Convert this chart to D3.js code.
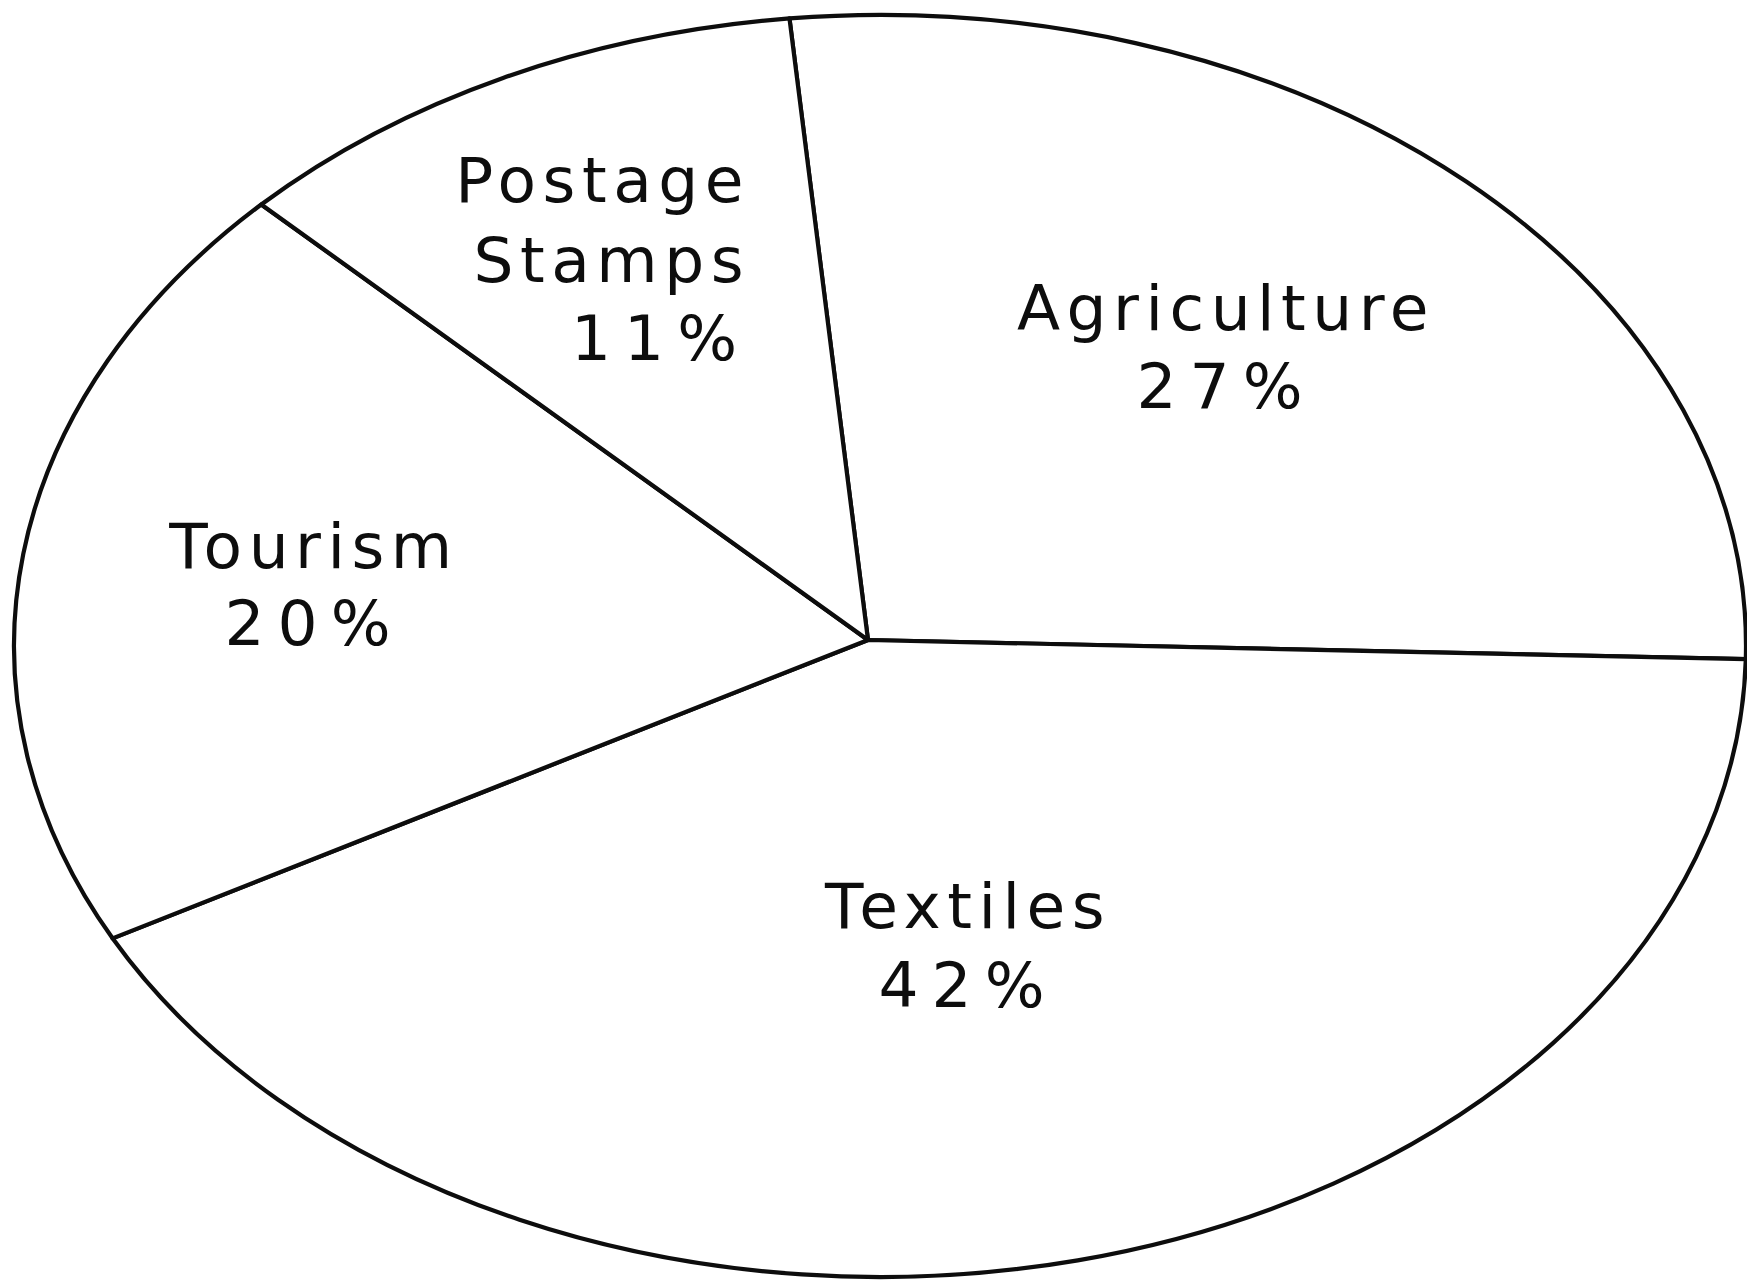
<!DOCTYPE html>
<html>
<head>
<meta charset="utf-8">
<script src="https://cdn.jsdelivr.net/npm/d3@7"></script>
<style>
  html, body { margin: 0; padding: 0; background: #ffffff; }
  svg { display: block; }
  text { font-family: "DejaVu Sans", sans-serif; fill: #0d0d0d; }
</style>
</head>
<body>
<svg id="chart" width="1747" height="1282"></svg>
<script>
// ---- data ----
const categories = ["Agriculture", "Textiles", "Tourism", "Postage Stamps"];
const values = [27, 42, 20, 11];
const percentLabels = ["27%", "42%", "20%", "11%"];

// ---- layout ----
const W = 1747, H = 1282;
const ellipse = { cx: 880, cy: 646, rx: 866, ry: 631 };
const hub = { x: 868, y: 640 };
const startDeg = -6;
// label anchor, text-anchor and baselines per category (layout only)
const labelLayout = [
  { x: 1226, anchor: "middle", lines: [330, 408] },
  { x: 968,  anchor: "middle", lines: [928, 1007] },
  { x: 314,  anchor: "middle", lines: [568, 645] },
  { x: 750,  anchor: "end",    lines: [202, 282, 360] }
];

const svg = d3.select("#chart");
svg.append("rect").attr("width", W).attr("height", H).attr("fill", "#ffffff");

const a0 = startDeg * Math.PI / 180;
const pie = d3.pie().sort(null).value(d => d).startAngle(a0).endAngle(a0 + 2 * Math.PI);
const arcs = pie(values);

function ept(a) {
  return [ellipse.cx + ellipse.rx * Math.sin(a), ellipse.cy - ellipse.ry * Math.cos(a)];
}
function slicePath(d) {
  const p0 = ept(d.startAngle), p1 = ept(d.endAngle);
  const large = (d.endAngle - d.startAngle) > Math.PI ? 1 : 0;
  return `M${hub.x},${hub.y}L${p0[0]},${p0[1]}A${ellipse.rx},${ellipse.ry} 0 ${large} 1 ${p1[0]},${p1[1]}Z`;
}

svg.append("g").selectAll("path")
  .data(arcs)
  .join("path")
  .attr("d", slicePath)
  .attr("fill", "#ffffff")
  .attr("stroke", "#0d0d0d")
  .attr("stroke-width", 4.2)
  .attr("stroke-linejoin", "round");

// labels
const lg = svg.append("g");
arcs.forEach((d, i) => {
  const L = labelLayout[i];
  const words = categories[i] === "Postage Stamps" ? ["Postage", "Stamps"] : [categories[i]];
  const lines = words.concat([percentLabels[i]]);
  lines.forEach((t, j) => {
    const isPct = j === lines.length - 1;
    lg.append("text")
      .attr("x", L.x)
      .attr("y", L.lines[j])
      .attr("text-anchor", L.anchor)
      .attr("font-size", 63)
      .attr("letter-spacing", isPct ? "13px" : "6.5px")
      .text(t);
  });
});
</script>
</body>
</html>
